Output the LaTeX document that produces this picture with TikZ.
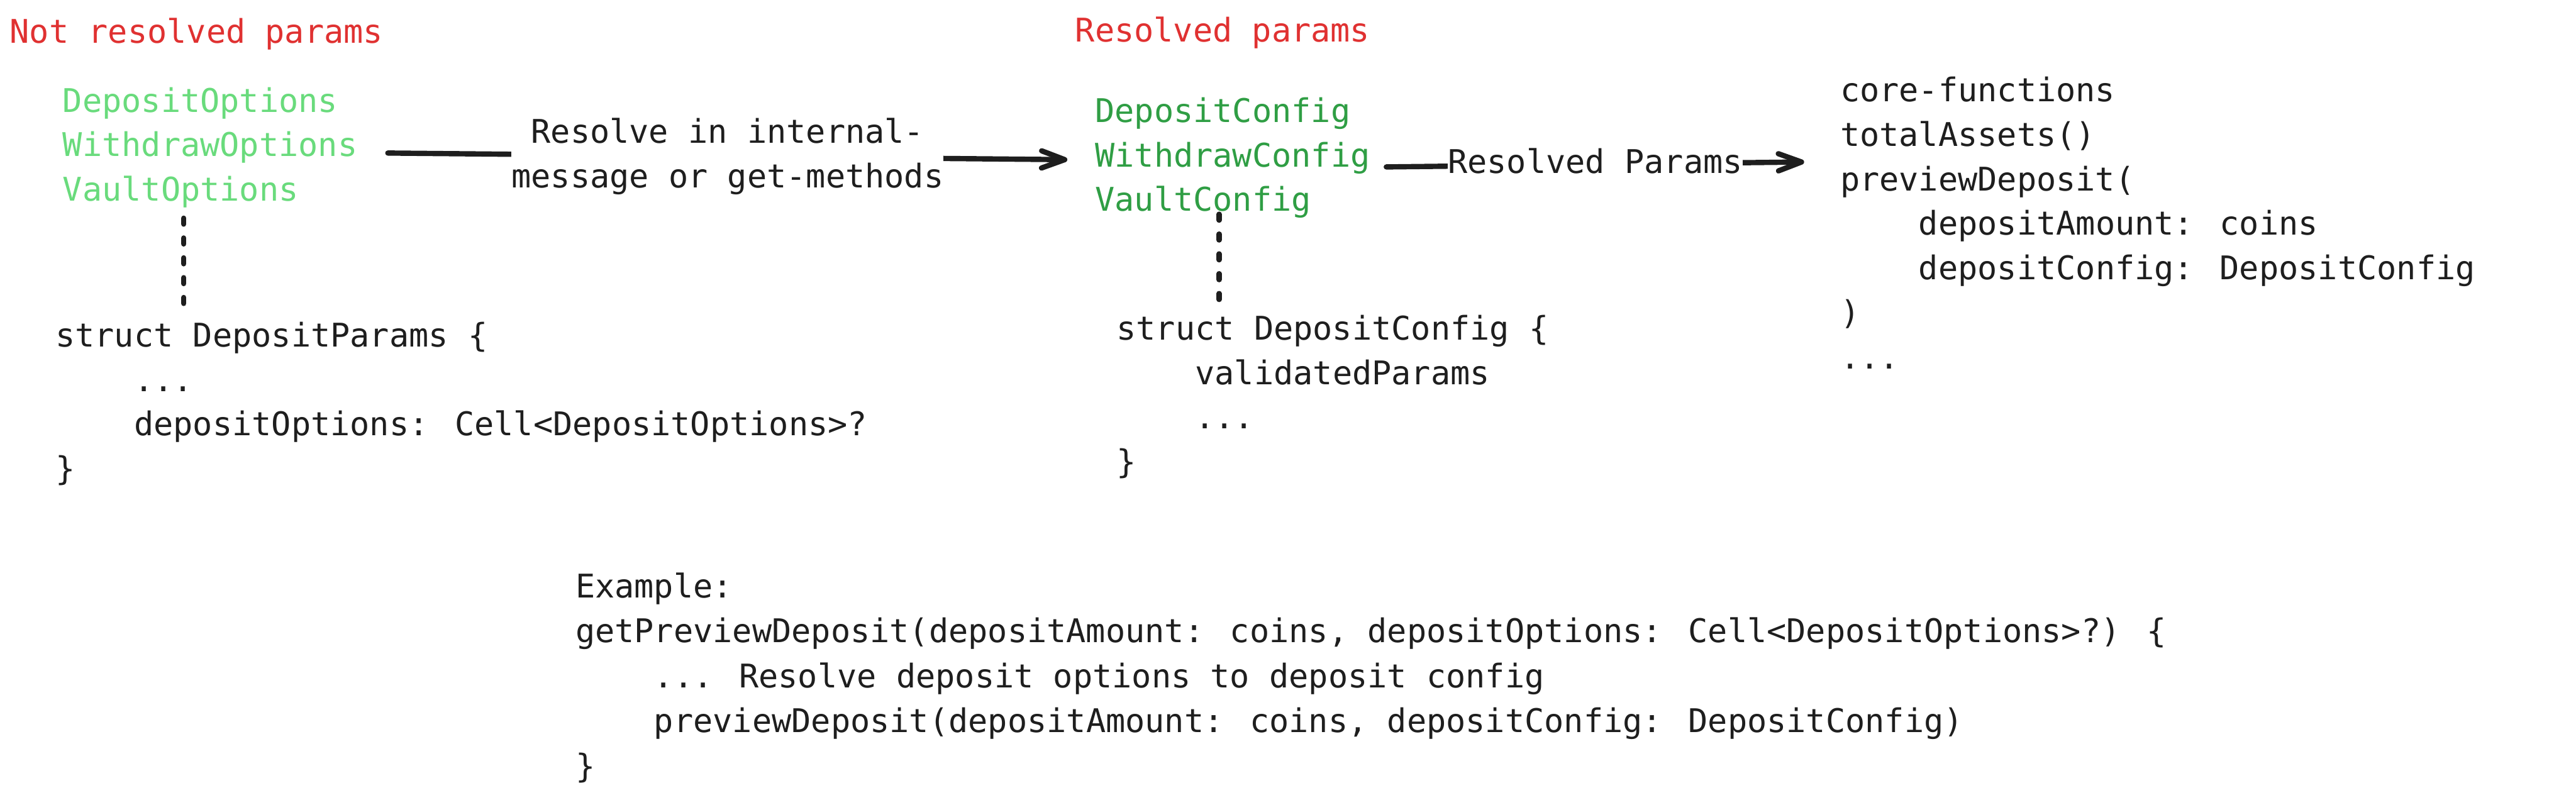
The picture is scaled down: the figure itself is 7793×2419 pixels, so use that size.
\documentclass[tikz,border=0pt]{standalone}
\usepackage{fontspec}
\newfontfamily\codefont{DejaVu Sans Mono}
\usetikzlibrary{arrows.meta,calc}
\definecolor{inkred}{HTML}{E03131}
\definecolor{inklight}{HTML}{69DB7C}
\definecolor{inkgreen}{HTML}{2F9E44}
\definecolor{ink}{HTML}{1E1E1E}
\newcommand\myind{\hphantom{0000}}
\begin{document}
\begin{tikzpicture}[x=0.1pt,y=-0.1pt,
  txt/.style={font=\codefont\fontsize{9.87pt}{13.45pt}\selectfont, inner sep=0pt, align=left, anchor=base west, text=ink},
  lbl/.style={txt, anchor=center, fill=white},
  conn/.style={draw=ink, line width=1.6pt, line cap=round, -{Straight Barb[length=7pt,width=5.2pt,line cap=round,line join=round]}},
  dashline/.style={draw=ink, line width=1.6pt, line cap=round, dash pattern=on 1.8pt off 4.2pt}]
\fill[white] (0,0) rectangle (7793,2419);
\useasboundingbox (0,0) rectangle (7793,2419);

% multi-line nodes: the base anchor is the baseline of the last line
\node[txt, text=inkred] (nrtitle) at (28,131) {Not resolved params};
\node[txt, text=inkred] (rtitle) at (3251,127) {Resolved params};
\node[txt, text=inklight] (opts) at (188,608) {DepositOptions\\WithdrawOptions\\VaultOptions};
\node[txt, text=inkgreen] (cfgs) at (3311,639) {DepositConfig\\WithdrawConfig\\VaultConfig};
\node[txt] (sparams) at (166,1452.5) {struct DepositParams \{\\\myind...\\\myind depositOptions: Cell<DepositOptions>?\\\}};
\node[txt] (sconfig) at (3376,1431.5) {struct DepositConfig \{\\\myind validatedParams\\\myind...\\\}};
\node[txt] (core) at (5565,1115) {core-functions\\totalAssets()\\previewDeposit(\\\myind depositAmount: coins\\\myind depositConfig: DepositConfig\\)\\...};
\node[txt, font=\codefont\fontsize{9.87pt}{13.6pt}\selectfont] (example) at (1739,2352) {Example:\\getPreviewDeposit(depositAmount: coins, depositOptions: Cell<DepositOptions>?) \{\\\myind... Resolve deposit options to deposit config\\\myind previewDeposit(depositAmount: coins, depositConfig: DepositConfig)\\\}};

\draw[conn] ($(opts.base east)+(90,-145)$) -- node[lbl, align=center] (lbl1) {Resolve in internal-\\message or get-methods} ($(cfgs.base west)+(-82,-156)$);
\draw[conn] ($(cfgs.base east)+(47,-134)$) -- node[lbl, text depth=2.4pt] (lbl2) {Resolved Params} ($(core.base west)+(-107,-625)$);

\draw[dashline] ($(opts.base west)+(368,52)$) -- ($(sparams.base west)+(390,-500.5)$);
\draw[dashline] ($(cfgs.base west)+(377,9)$) -- ($(sconfig.base west)+(312,-524.5)$);
\end{tikzpicture}
\end{document}
